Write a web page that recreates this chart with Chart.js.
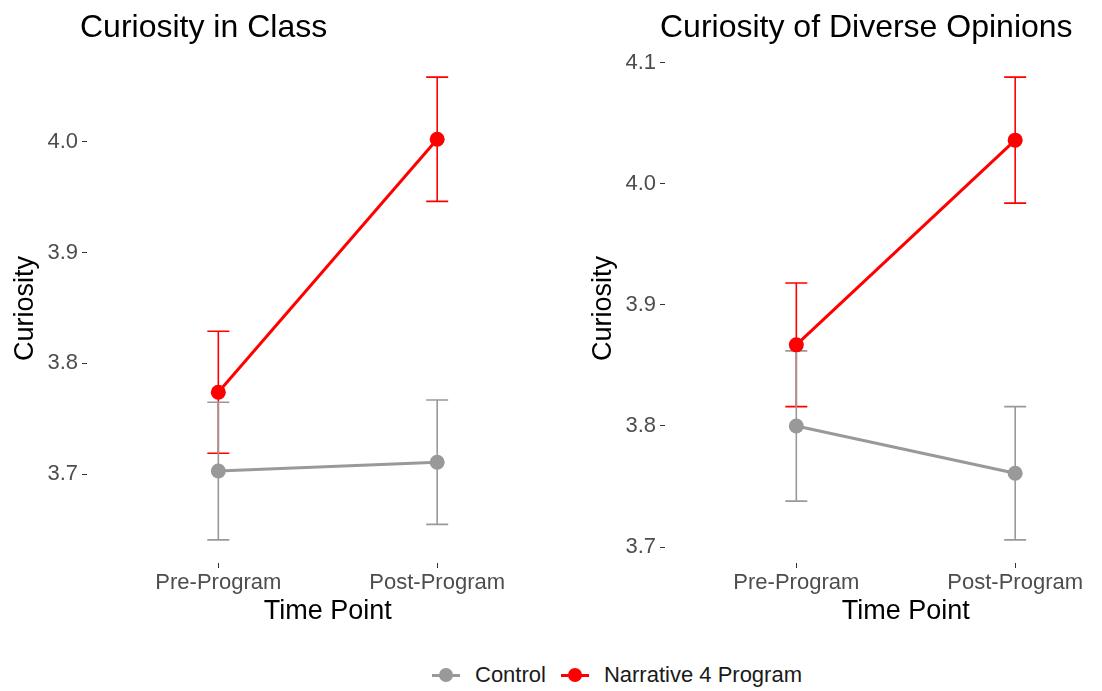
<!DOCTYPE html>
<html>
<head>
<meta charset="utf-8">
<script src="https://cdn.jsdelivr.net/npm/chart.js@4.4.1/dist/chart.umd.min.js"></script>
<style>
  html, body { margin: 0; padding: 0; background: #fff; width: 1102px; height: 691px; overflow: hidden; }
  body { position: relative; font-family: "Liberation Sans", Arial, sans-serif; }
  canvas { position: absolute; top: 0; }
  #legend { position: absolute; left: 432px; top: 660px; height: 30px; display: flex; align-items: center;
            font-size: 22px; color: #1a1a1a; white-space: nowrap; }
  .item { display: flex; align-items: center; margin-right: 15px; }
  .key { position: relative; width: 28px; height: 30px; margin-right: 15px; }
  .key .ln { position: absolute; left: 0; right: 0; top: 13.5px; height: 3px; }
  .key .dot { position: absolute; left: 7px; top: 7.5px; width: 14px; height: 14px; border-radius: 50%; }
</style>
</head>
<body>
<canvas id="cClass" width="576" height="632" style="left:0px"></canvas>
<canvas id="cOpinions" width="576" height="632" style="left:578px"></canvas>
<div id="legend"></div>
<script>
// Categories and groups
const timePoints = ['Pre-Program', 'Post-Program'];
const groups = ['Control', 'Narrative 4 Program'];
const groupColors = ['#999999', '#FF0000'];

// Curiosity in Class: group means and standard errors
const classControlMean = [3.703, 3.711];
const classControlSE   = [0.062, 0.056];
const classN4Mean      = [3.774, 4.002];
const classN4SE        = [0.055, 0.056];
const classTicks       = [3.7, 3.8, 3.9, 4.0];

// Curiosity of Diverse Opinions: group means and standard errors
const opinionsControlMean = [3.800, 3.761];
const opinionsControlSE   = [0.062, 0.055];
const opinionsN4Mean      = [3.867, 4.036];
const opinionsN4SE        = [0.051, 0.052];
const opinionsTicks       = [3.7, 3.8, 3.9, 4.0, 4.1];

const FONT = '"Liberation Sans", Arial, sans-serif';
Chart.defaults.font.family = FONT;

// Vertical error bars with caps, drawn from each dataset's `se` values
const errorBarPlugin = {
  id: 'errorBars',
  beforeDatasetsDraw(chart) {
    const ctx = chart.ctx;
    const xs = chart.scales.x, ys = chart.scales.y;
    const capHalf = 11;
    ctx.save();
    for (let k = chart.data.datasets.length - 1; k >= 0; k--) {
      const ds = chart.data.datasets[k];
      ctx.strokeStyle = ds.borderColor;
      ctx.lineWidth = 1.6;
      ds.data.forEach((p, i) => {
        const x = xs.getPixelForValue(p.x);
        const yTop = ys.getPixelForValue(p.y + ds.se[i]);
        const yBot = ys.getPixelForValue(p.y - ds.se[i]);
        ctx.beginPath();
        ctx.moveTo(x, yTop); ctx.lineTo(x, yBot);
        ctx.moveTo(x - capHalf, yTop); ctx.lineTo(x + capHalf, yTop);
        ctx.moveTo(x - capHalf, yBot); ctx.lineTo(x + capHalf, yBot);
        ctx.stroke();
      });
    }
    ctx.restore();
  }
};

// Small horizontal nudge for the panel title
function titleNudge(dx) {
  return {
    id: 'titleNudge',
    afterLayout(chart) {
      if (chart.titleBlock) { chart.titleBlock.left += dx; chart.titleBlock.right += dx; }
    }
  };
}

function makePanel(id, title, means, ses, yTicks, titleDx) {
  const ends = means.flatMap((m, k) => m.flatMap((v, i) => [v - ses[k][i], v + ses[k][i]]));
  const lo = Math.min(...ends), hi = Math.max(...ends), pad = (hi - lo) * 0.05;
  const axisTitleFont = { family: FONT, size: 27 };
  const tickFont = { family: FONT, size: 22 };
  return new Chart(document.getElementById(id), {
    type: 'line',
    data: {
      datasets: groups.map((g, k) => ({
        label: g,
        data: means[k].map((v, i) => ({ x: i + 1, y: v })),
        se: ses[k],
        borderColor: groupColors[k],
        backgroundColor: groupColors[k],
        pointBackgroundColor: groupColors[k],
        borderWidth: 3,
        pointRadius: 7.5,
        pointHoverRadius: 7.5,
        pointBorderWidth: 0,
        tension: 0
      }))
    },
    options: {
      responsive: false,
      animation: false,
      devicePixelRatio: 1,
      events: [],
      layout: { padding: 0 },
      plugins: {
        legend: { display: false },
        tooltip: { enabled: false },
        title: {
          display: true, text: title, align: 'start', fullSize: false,
          color: '#000000', font: { family: FONT, size: 32, weight: 'normal' },
          padding: { top: 9, bottom: 6.6 }
        }
      },
      scales: {
        x: {
          type: 'linear', min: 0.4, max: 2.6,
          afterBuildTicks: s => { s.ticks = timePoints.map((t, i) => ({ value: i + 1 })); },
          afterFit: s => { s.height = 69; },
          ticks: {
            callback: v => timePoints[v - 1], color: '#4D4D4D', font: tickFont,
            padding: 2, maxRotation: 0, autoSkip: false
          },
          grid: { drawOnChartArea: false, drawTicks: true, tickLength: 5, color: '#333333', lineWidth: 1 },
          border: { display: false },
          title: { display: true, text: 'Time Point', color: '#000000', font: axisTitleFont, padding: { top: 0, bottom: 4 } }
        },
        y: {
          type: 'linear', min: lo - pad, max: hi + pad,
          afterBuildTicks: s => { s.ticks = yTicks.map(v => ({ value: v })); },
          afterFit: s => { s.width = 87; },
          ticks: { callback: v => v.toFixed(1), color: '#4D4D4D', font: tickFont, padding: 4 },
          grid: { drawOnChartArea: false, drawTicks: true, tickLength: 5, color: '#333333', lineWidth: 1 },
          border: { display: false },
          title: { display: true, text: 'Curiosity', color: '#000000', font: axisTitleFont, padding: { top: 9, bottom: 0 } }
        }
      }
    },
    plugins: [errorBarPlugin, titleNudge(titleDx)]
  });
}

makePanel('cClass', 'Curiosity in Class',
  [classControlMean, classN4Mean], [classControlSE, classN4SE], classTicks, -7);
makePanel('cOpinions', 'Curiosity of Diverse Opinions',
  [opinionsControlMean, opinionsN4Mean], [opinionsControlSE, opinionsN4SE], opinionsTicks, -5);

// Shared legend
const legend = document.getElementById('legend');
groups.forEach((g, k) => {
  const item = document.createElement('div');
  item.className = 'item';
  item.innerHTML = '<div class="key"><div class="ln" style="background:' + groupColors[k] +
    '"></div><div class="dot" style="background:' + groupColors[k] + '"></div></div><span>' + g + '</span>';
  legend.appendChild(item);
});
</script>
</body>
</html>
